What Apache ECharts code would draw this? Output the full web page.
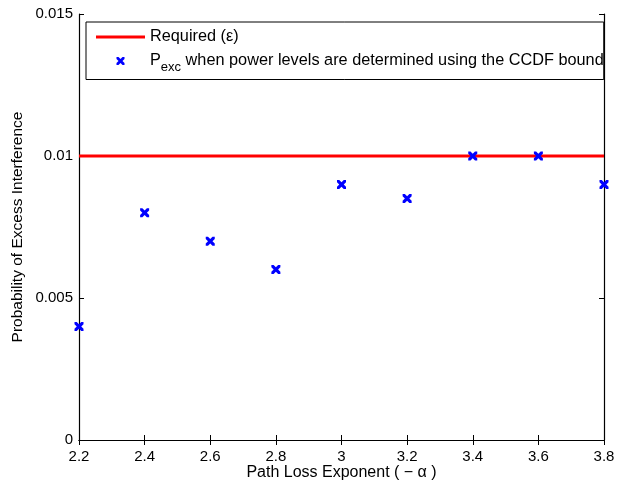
<!DOCTYPE html>
<html>
<head>
<meta charset="utf-8">
<script src="https://cdn.jsdelivr.net/npm/echarts@6/dist/echarts.min.js"></script>
<style>
  html, body { margin: 0; padding: 0; background: #fff; }
  #chart { width: 617px; height: 482px; }
</style>
</head>
<body>
<div id="chart"></div>
<script>
// data
var exponents = [2.2, 2.4, 2.6, 2.8, 3.0, 3.2, 3.4, 3.6, 3.8];
var pExc = [0.004, 0.008, 0.007, 0.006, 0.009, 0.0085, 0.01, 0.01, 0.009];
var requiredX = [2.2, 3.8];
var requiredY = [0.01, 0.01];
var yTickLabels = { '0': '0', '0.005': '0.005', '0.01': '0.01', '0.015': '0.015' };

var FONT = 'Liberation Sans, Arial, sans-serif';
var crossPath = 'path://M0,0 L2.5,0 L5,2.5 L7.5,0 L10,0 L10,2.5 L7.5,5 L10,7.5 L10,10 L7.5,10 L5,7.5 L2.5,10 L0,10 L0,7.5 L2.5,5 L0,2.5 Z';
var lineIcon = 'path://M0,0 L49,0 L49,3 L0,3 Z';

var chart = echarts.init(document.getElementById('chart'));

function xFmt(v) { return String(+v.toFixed(1)); }
function yFmt(v) {
    var k = String(+v.toFixed(3));
    return yTickLabels[k] !== undefined ? yTickLabels[k] : k;
}

var axisLine = { show: true, lineStyle: { color: '#000', width: 1.2 } };
var tick = { show: true, inside: true, length: 5, lineStyle: { color: '#000' } };

var option = {
    animation: false,
    backgroundColor: '#fff',
    grid: { left: 79, right: 13, top: 14, bottom: 42, outerBoundsMode: 'none', containLabel: false },
    legend: {
        orient: 'vertical',
        left: 86,
        top: 22,
        padding: [7, 0, 6, 10],
        itemGap: 8,
        itemWidth: 49,
        itemHeight: 8,
        borderColor: '#000',
        borderWidth: 1,
        backgroundColor: '#fff',
        textStyle: {
            fontFamily: FONT, fontSize: 16.3, color: '#000',
            rich: {
                sub: { fontFamily: FONT, fontSize: 13, color: '#000', verticalAlign: 'bottom', padding: [12, 0, 0, 0] },
                n: { fontFamily: FONT, fontSize: 16.3, color: '#000' }
            }
        },
        formatter: function (name) {
            if (name === 'Pexc') {
                return '{n|P}{sub|exc}{n| when power levels are determined using the CCDF bound}';
            }
            return name;
        },
        data: [{ name: 'Required (\u03b5)', icon: lineIcon }, { name: 'Pexc', icon: crossPath }]
    },
    xAxis: [{
        type: 'value',
        min: 2.2, max: 3.8, interval: 0.2,
        name: 'Path Loss Exponent ( \u2212 \u03b1 )',
        nameLocation: 'middle',
        nameGap: 25,
        nameMoveOverlap: false,
        nameTextStyle: { fontFamily: FONT, fontSize: 16, color: '#000' },
        axisLine: axisLine,
        axisTick: tick,
        splitLine: { show: false },
        axisLabel: { fontFamily: FONT, fontSize: 15, color: '#000', margin: 9, formatter: xFmt }
    }, {
        type: 'value', position: 'top',
        min: 2.2, max: 3.8, interval: 0.2,
        axisLine: axisLine, axisTick: tick,
        splitLine: { show: false }, axisLabel: { show: false }
    }],
    yAxis: [{
        type: 'value',
        min: 0, max: 0.015, interval: 0.005,
        name: 'Probability of Excess Interference',
        nameLocation: 'middle',
        nameGap: 53,
        nameMoveOverlap: false,
        nameTextStyle: { fontFamily: FONT, fontSize: 15.5, color: '#000' },
        axisLine: axisLine,
        axisTick: tick,
        splitLine: { show: false },
        axisLabel: { fontFamily: FONT, fontSize: 15, color: '#000', margin: 6, formatter: yFmt }
    }, {
        type: 'value', position: 'right',
        min: 0, max: 0.015, interval: 0.005,
        axisLine: axisLine, axisTick: tick,
        splitLine: { show: false }, axisLabel: { show: false }
    }],
    series: [{
        name: 'Required (\u03b5)',
        type: 'line',
        symbol: 'none',
        lineStyle: { color: '#ff0000', width: 3 },
        itemStyle: { color: '#ff0000' },
        data: requiredX.map(function (x, i) { return [x, requiredY[i]]; }),
        z: 2
    }, {
        name: 'Pexc',
        type: 'scatter',
        symbol: crossPath,
        symbolSize: 9,
        itemStyle: { color: '#0000ff', opacity: 1 },
        data: exponents.map(function (x, i) { return [x, pExc[i]]; }),
        clip: false,
        z: 3
    }]
};

chart.setOption(option);
</script>
</body>
</html>
